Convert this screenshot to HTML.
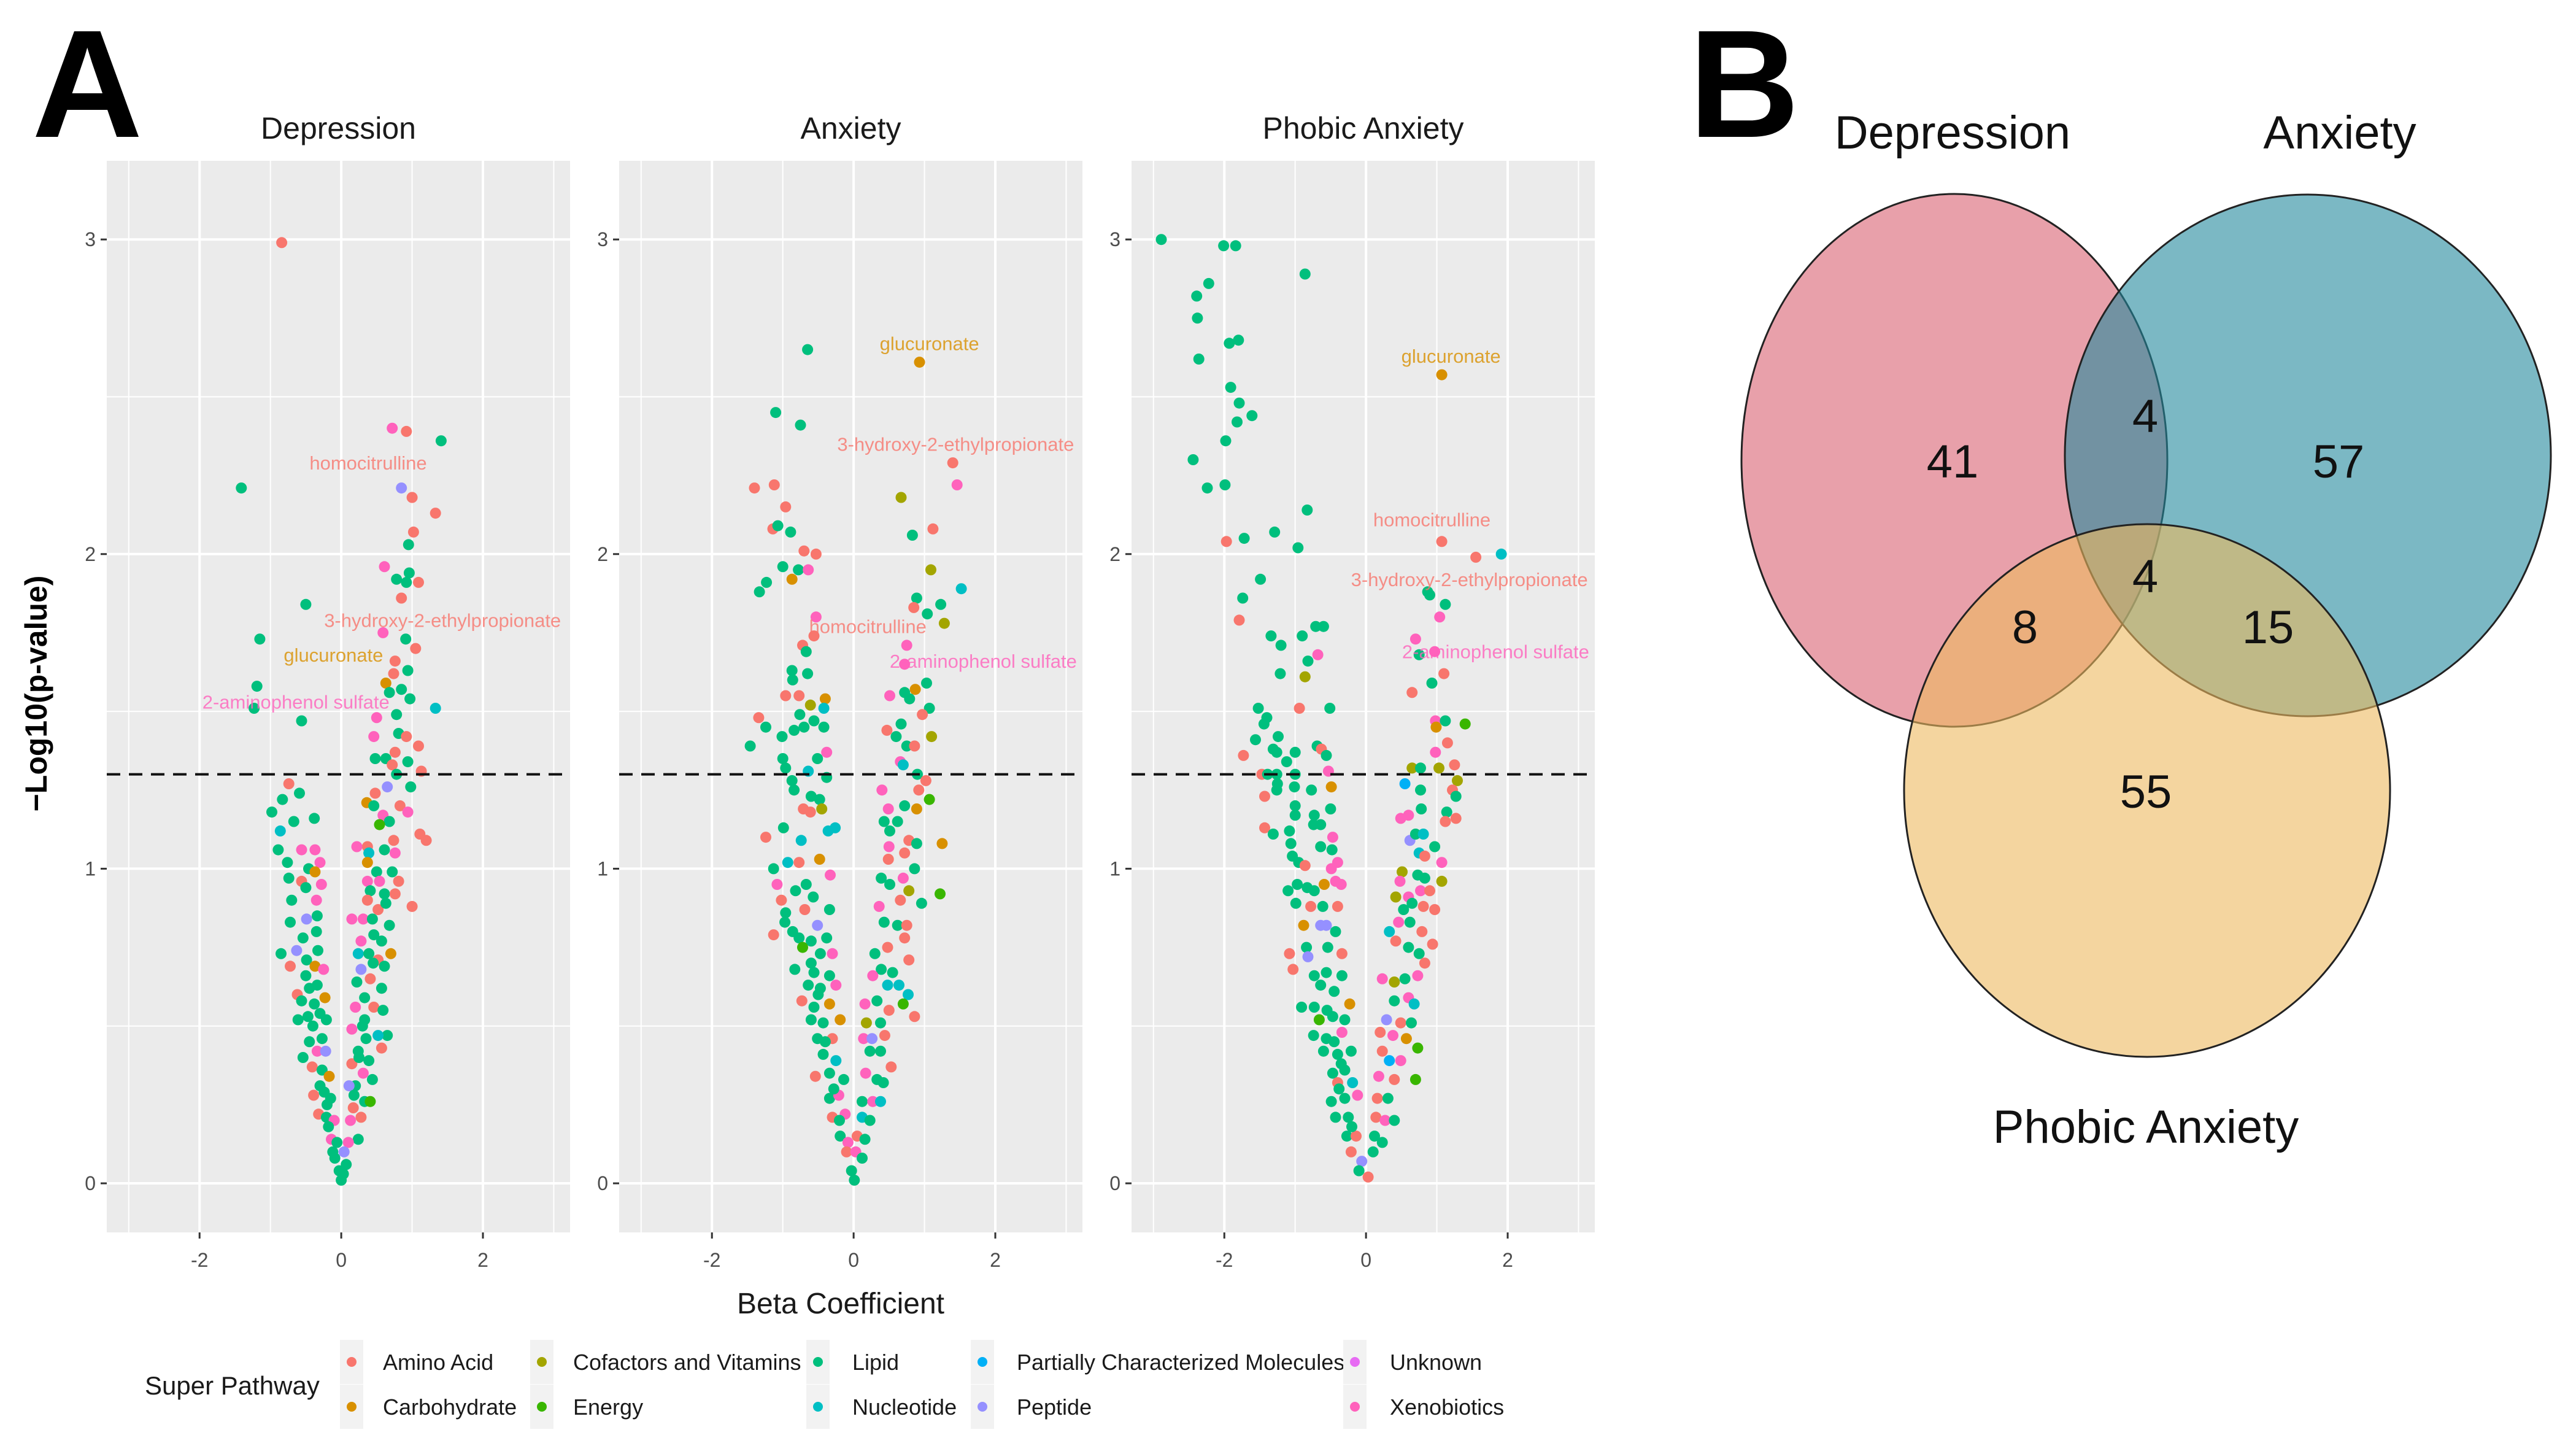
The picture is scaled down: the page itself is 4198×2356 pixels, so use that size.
<!DOCTYPE html>
<html><head><meta charset="utf-8">
<style>
html,body{margin:0;padding:0;background:#fff;}
svg{display:block;font-family:"Liberation Sans",Arial,sans-serif;}
</style></head>
<body>
<svg id="fig" width="4198" height="2356" viewBox="0 0 4198 2356" xmlns="http://www.w3.org/2000/svg">
<text x="52" y="223" font-size="250" font-weight="bold">A</text>
<text x="2752" y="223" font-size="250" font-weight="bold">B</text>
<g id="volcano"></g>
<g id="venn"></g>
</svg>
<script>
const NS="http://www.w3.org/2000/svg";
const categories=["Amino Acid","Carbohydrate","Cofactors and Vitamins","Energy","Lipid","Nucleotide","Partially Characterized Molecules","Peptide","Unknown","Xenobiotics"];
const catColors=["#F8766D","#D89000","#A3A500","#39B600","#00BF7D","#00BFC4","#00B0F6","#9590FF","#E76BF3","#FF62BC"];
const panelTitles=["Depression","Anxiety","Phobic Anxiety"];
const xTicks=[-2,0,2];
const yTicks=[0,1,2,3];
const threshold=1.3;
const depPoints=[[-0.84,2.99,"A"],[0.72,2.40,"X"],[0.92,2.39,"A"],[1.41,2.36,"L"],[-1.41,2.21,"L"],[0.85,2.21,"G"],[1.0,2.18,"A"],[1.33,2.13,"A"],[1.02,2.07,"A"],[0.95,2.03,"L"],[0.61,1.96,"X"],[0.78,1.92,"L"],[0.96,1.94,"L"],[0.92,1.91,"L"],[1.09,1.91,"A"],[0.85,1.86,"A"],[-0.50,1.84,"L"],[0.59,1.75,"X"],[-1.15,1.73,"L"],[0.91,1.73,"L"],[1.05,1.70,"A"],[0.76,1.66,"A"],[0.74,1.62,"A"],[0.63,1.59,"C"],[0.94,1.63,"L"],[-1.19,1.58,"L"],[0.68,1.56,"L"],[0.85,1.57,"L"],[0.97,1.54,"L"],[-1.23,1.51,"L"],[1.33,1.51,"N"],[0.78,1.49,"L"],[0.50,1.48,"X"],[-0.56,1.47,"L"],[0.46,1.42,"X"],[0.81,1.43,"L"],[0.92,1.42,"A"],[1.09,1.39,"A"],[0.76,1.37,"A"],[0.48,1.35,"L"],[0.63,1.35,"L"],[0.94,1.34,"L"],[0.72,1.33,"A"],[1.13,1.31,"A"],[0.78,1.30,"L"],[0.98,1.26,"L"],[0.65,1.26,"G"],[0.48,1.24,"A"],
[-0.74,1.27,"A"],[-0.83,1.22,"L"],[-0.59,1.24,"L"],[-0.98,1.18,"L"],[-0.67,1.15,"L"],[-0.86,1.12,"N"],[-0.38,1.16,"L"],[-0.89,1.06,"L"],[-0.56,1.06,"X"],[-0.37,1.06,"X"],[-0.76,1.02,"L"],[-0.46,1.00,"L"],[-0.30,1.02,"X"],[-0.74,0.97,"L"],[-0.56,0.96,"A"],[-0.37,0.99,"C"],[-0.28,0.95,"X"],[-0.50,0.94,"L"],[-0.70,0.90,"L"],[-0.35,0.90,"X"],[-0.72,0.83,"L"],[-0.49,0.84,"G"],[-0.34,0.85,"L"],[-0.54,0.78,"L"],[-0.35,0.80,"L"],[-0.63,0.74,"G"],[-0.33,0.74,"L"],[-0.85,0.73,"L"],[-0.49,0.71,"L"],[-0.37,0.69,"C"],[-0.72,0.69,"A"],[-0.25,0.68,"X"],[-0.34,0.63,"L"],[-0.62,0.60,"A"],[-0.23,0.59,"C"],[-0.56,0.58,"L"],[-0.38,0.57,"L"],[-0.61,0.52,"L"],[-0.47,0.53,"L"],[-0.30,0.54,"L"],[-0.21,0.52,"L"],[-0.45,0.45,"L"],[-0.27,0.46,"L"],[-0.34,0.42,"X"],[-0.22,0.42,"G"],[-0.54,0.40,"L"],[-0.41,0.37,"A"],[-0.27,0.36,"L"],[-0.17,0.34,"C"],[-0.39,0.28,"A"],[-0.24,0.29,"L"],[-0.15,0.27,"L"],[-0.32,0.22,"A"],[-0.21,0.21,"L"],[-0.10,0.20,"X"],[-0.14,0.14,"X"],[-0.06,0.13,"L"],[-0.09,0.08,"L"],[-0.03,0.04,"L"],[0,0.01,"L"],[-0.45,0.62,"L"],[-0.40,0.50,"L"],[-0.30,0.31,"L"],[-0.18,0.18,"L"],[-0.50,0.66,"L"],[-0.20,0.25,"L"],[-0.12,0.10,"L"],
[0.36,1.21,"C"],[0.46,1.20,"L"],[0.59,1.17,"X"],[0.68,1.15,"L"],[0.83,1.20,"A"],[0.94,1.18,"X"],[0.54,1.14,"E"],[0.74,1.09,"A"],[0.37,1.07,"A"],[0.22,1.07,"X"],[0.39,1.05,"N"],[0.61,1.06,"L"],[0.76,1.05,"X"],[1.11,1.11,"A"],[1.20,1.09,"A"],[0.37,1.02,"C"],[0.50,0.99,"L"],[0.72,0.99,"L"],[0.37,0.96,"X"],[0.54,0.96,"X"],[0.81,0.96,"A"],[0.41,0.93,"L"],[0.61,0.92,"L"],[0.76,0.92,"A"],[1.0,0.88,"A"],[0.37,0.90,"A"],[0.52,0.87,"A"],[0.63,0.89,"L"],[0.31,0.84,"X"],[0.44,0.84,"L"],[0.15,0.84,"X"],[0.68,0.82,"L"],[0.46,0.79,"L"],[0.28,0.77,"X"],[0.57,0.77,"L"],[0.70,0.73,"C"],[0.24,0.73,"N"],[0.39,0.73,"L"],[0.52,0.71,"A"],[0.28,0.68,"G"],[0.61,0.69,"L"],[0.41,0.65,"A"],[0.22,0.64,"L"],[0.57,0.62,"L"],[0.33,0.59,"L"],[0.46,0.56,"A"],[0.20,0.56,"X"],[0.59,0.55,"L"],[0.33,0.52,"L"],[0.65,0.47,"L"],[0.52,0.47,"N"],[0.15,0.49,"X"],[0.35,0.46,"L"],[0.57,0.43,"A"],[0.24,0.42,"L"],[0.39,0.39,"L"],[0.15,0.38,"A"],[0.31,0.35,"X"],[0.44,0.33,"L"],[0.20,0.31,"L"],[0.11,0.31,"G"],[0.33,0.26,"L"],[0.41,0.26,"E"],[0.17,0.24,"A"],[0.28,0.21,"A"],[0.13,0.20,"X"],[0.24,0.14,"L"],[0.10,0.13,"X"],[0.04,0.10,"G"],[0.07,0.06,"L"],[0.03,0.03,"L"],[0.30,0.50,"L"],[0.25,0.40,"L"],[0.18,0.28,"L"],[0.45,0.70,"L"]];
const anxPoints=[[-0.65,2.65,"L"],[0.93,2.61,"C"],[-1.10,2.45,"L"],[-0.75,2.41,"L"],[1.40,2.29,"A"],[1.46,2.22,"X"],[-1.40,2.21,"A"],[-1.12,2.22,"A"],[-0.96,2.15,"A"],[0.67,2.18,"F"],[-1.14,2.08,"A"],[-1.07,2.09,"L"],[-0.89,2.07,"L"],[0.83,2.06,"L"],[1.12,2.08,"A"],[-0.70,2.01,"A"],[-0.53,2.00,"A"],[-1.0,1.96,"L"],[-0.78,1.95,"L"],[-0.64,1.95,"X"],[-0.87,1.92,"C"],[1.09,1.95,"F"],[-1.23,1.91,"L"],[-1.33,1.88,"L"],[1.52,1.89,"N"],[0.89,1.86,"L"],[1.23,1.84,"L"],[0.85,1.83,"A"],[1.04,1.81,"L"],[1.28,1.78,"F"],[-0.53,1.80,"X"],[-0.56,1.74,"A"],[-0.72,1.71,"A"],[-0.67,1.69,"L"],[0.75,1.71,"X"],[0.72,1.65,"X"],[-0.87,1.63,"L"],[-0.86,1.60,"L"],[-0.65,1.62,"L"],[0.87,1.57,"C"],[1.03,1.59,"L"],[0.72,1.56,"L"],[0.79,1.54,"L"],[0.51,1.55,"X"],[-0.96,1.55,"A"],[-0.77,1.55,"A"],[-0.40,1.54,"C"],[-0.61,1.52,"F"],[-0.42,1.51,"N"],[1.07,1.51,"L"],[-1.34,1.48,"A"],[-1.24,1.45,"L"],[-1.01,1.42,"L"],[-0.76,1.49,"L"],[-0.84,1.44,"L"],[-0.70,1.45,"L"],[-0.56,1.47,"L"],[-0.42,1.45,"L"],[0.97,1.49,"A"],[0.67,1.46,"L"],[0.47,1.44,"A"],[0.60,1.42,"L"],[1.10,1.42,"F"],[0.75,1.39,"L"],[0.86,1.39,"A"],[-1.46,1.39,"L"],[-1.0,1.35,"L"],[-0.51,1.35,"L"],[-0.38,1.37,"X"],[0.66,1.34,"X"],[0.70,1.33,"N"],[-0.96,1.32,"L"],[-0.64,1.31,"N"],[-0.38,1.29,"L"],[0.90,1.30,"L"],[-0.87,1.28,"L"],[-0.84,1.25,"L"],[1.02,1.28,"A"],[0.40,1.25,"X"],[0.92,1.25,"A"],[1.07,1.22,"E"],[-0.60,1.23,"L"],[-0.48,1.22,"L"],[-0.71,1.19,"A"],[-0.61,1.18,"A"],[-0.45,1.19,"F"],[0.49,1.19,"X"],[0.72,1.20,"L"],[0.89,1.19,"C"],[-0.36,1.12,"N"],[-0.26,1.13,"N"],[-0.99,1.13,"L"],[-1.24,1.10,"A"],[-0.74,1.09,"N"],[0.43,1.15,"L"],[0.62,1.15,"L"],[0.51,1.12,"L"],[0.78,1.09,"A"],[0.89,1.08,"L"],[1.25,1.08,"C"],[0.50,1.07,"X"],[-1.13,1.00,"L"],[-0.93,1.02,"N"],[-0.77,1.02,"A"],[-0.48,1.03,"C"],[-0.33,0.98,"X"],[0.49,1.03,"A"],[0.72,1.05,"A"],[0.78,0.93,"F"],[0.86,1.0,"L"],[1.22,0.92,"E"],[0.96,0.89,"L"],[-1.08,0.95,"X"],[-0.82,0.93,"L"],[-0.67,0.95,"L"],[-1.02,0.90,"A"],[-0.57,0.91,"L"],[0.39,0.97,"L"],[0.51,0.95,"L"],[0.70,0.97,"X"],[-0.96,0.86,"L"],[-0.69,0.87,"A"],[-0.34,0.87,"L"],[0.36,0.88,"X"],[0.66,0.90,"A"],[-1.13,0.79,"A"],[-0.97,0.83,"L"],[-0.86,0.80,"L"],[-0.51,0.82,"G"],[-0.77,0.78,"L"],[-0.60,0.77,"L"],[-0.38,0.78,"L"],[0.43,0.83,"L"],[0.62,0.82,"L"],[0.75,0.82,"A"],[-0.72,0.75,"E"],[-0.47,0.73,"L"],[-0.30,0.73,"X"],[0.30,0.73,"L"],[0.48,0.75,"A"],[0.72,0.78,"A"],[0.78,0.71,"A"],[-0.83,0.68,"L"],[-0.56,0.67,"L"],[-0.34,0.66,"L"],[0.39,0.68,"L"],[0.55,0.67,"L"],[-0.64,0.63,"L"],[-0.47,0.62,"L"],[-0.25,0.63,"X"],[0.27,0.66,"X"],[0.48,0.63,"N"],[0.64,0.63,"N"],[0.77,0.60,"N"],[0.70,0.57,"E"],[0.86,0.53,"A"],[-0.73,0.58,"A"],[-0.56,0.56,"L"],[-0.34,0.57,"C"],[0.16,0.57,"X"],[0.33,0.58,"L"],[0.50,0.55,"A"],[-0.60,0.52,"L"],[-0.43,0.51,"L"],[-0.19,0.52,"C"],[0.18,0.51,"F"],[0.38,0.51,"L"],[-0.51,0.46,"L"],[-0.30,0.46,"A"],[0.14,0.46,"X"],[0.26,0.46,"G"],[0.44,0.47,"A"],[-0.43,0.41,"L"],[-0.25,0.39,"N"],[0.23,0.42,"L"],[0.38,0.42,"L"],[0.53,0.37,"A"],[-0.54,0.34,"A"],[-0.34,0.35,"L"],[-0.14,0.33,"L"],[0.17,0.35,"X"],[0.33,0.33,"L"],[0.42,0.32,"L"],[-0.34,0.27,"L"],[-0.21,0.28,"X"],[0.12,0.26,"L"],[0.27,0.26,"X"],[0.38,0.26,"N"],[-0.30,0.21,"A"],[-0.12,0.22,"X"],[0.12,0.21,"N"],[0.23,0.20,"L"],[-0.19,0.15,"L"],[-0.08,0.13,"X"],[0.05,0.15,"A"],[0.16,0.14,"L"],[-0.10,0.10,"A"],[0.03,0.10,"X"],[0.12,0.08,"L"],[-0.03,0.04,"L"],[0.01,0.01,"L"],[-0.50,0.60,"L"],[-0.40,0.45,"L"],[-0.28,0.30,"L"],[-0.60,0.70,"L"],[-0.20,0.20,"L"]];
const phoPoints=[[-2.89,3.0,"L"],[-2.01,2.98,"L"],[-1.84,2.98,"L"],[-0.86,2.89,"L"],[-2.22,2.86,"L"],[-2.39,2.82,"L"],[-2.38,2.75,"L"],[-1.93,2.67,"L"],[-1.80,2.68,"L"],[-2.36,2.62,"L"],[-1.91,2.53,"L"],[-1.79,2.48,"L"],[-1.61,2.44,"L"],[-1.82,2.42,"L"],[-1.98,2.36,"L"],[-2.44,2.30,"L"],[-2.24,2.21,"L"],[-1.99,2.22,"L"],[1.07,2.57,"C"],[-0.83,2.14,"L"],[-1.97,2.04,"A"],[-1.72,2.05,"L"],[-1.29,2.07,"L"],[-0.96,2.02,"L"],[1.07,2.04,"A"],[1.55,1.99,"A"],[1.91,2.0,"N"],[-1.49,1.92,"L"],[-1.74,1.86,"L"],[0.87,1.88,"L"],[0.90,1.87,"L"],[1.12,1.84,"L"],[1.04,1.80,"X"],[-1.79,1.79,"A"],[-1.34,1.74,"L"],[-1.20,1.71,"L"],[-0.90,1.74,"L"],[-0.71,1.77,"L"],[-0.60,1.77,"L"],[0.70,1.73,"X"],[0.75,1.68,"L"],[0.97,1.69,"X"],[-0.68,1.68,"X"],[-0.82,1.66,"L"],[-1.21,1.62,"L"],[-0.86,1.61,"F"],[1.10,1.62,"A"],[0.93,1.59,"L"],[0.65,1.56,"A"],[-1.52,1.51,"L"],[-0.94,1.51,"A"],[-0.51,1.51,"L"],[-1.40,1.48,"L"],[-1.44,1.46,"L"],[0.98,1.47,"X"],[1.12,1.47,"L"],[1.40,1.46,"E"],[0.99,1.45,"C"],[-1.56,1.41,"L"],[-1.24,1.42,"L"],[1.15,1.40,"A"],[-0.69,1.39,"L"],[-0.63,1.38,"A"],[-1.31,1.38,"L"],[-1.26,1.37,"L"],[-1.0,1.37,"L"],[-0.56,1.36,"L"],[-1.73,1.36,"A"],[-1.12,1.34,"L"],[0.98,1.37,"X"],[-1.47,1.30,"A"],[-1.39,1.30,"L"],[-1.26,1.30,"L"],[-1.0,1.30,"L"],[-0.53,1.31,"X"],[0.65,1.32,"F"],[0.77,1.32,"L"],[1.03,1.32,"F"],[1.25,1.33,"A"],[0.55,1.27,"P"],[-1.25,1.27,"L"],[-1.01,1.26,"L"],[-0.77,1.25,"L"],[-0.49,1.26,"C"],[1.29,1.28,"F"],[1.22,1.25,"A"],[-1.43,1.23,"A"],[-1.26,1.25,"L"],[0.77,1.25,"L"],[1.27,1.23,"L"],[-1.0,1.20,"L"],[0.78,1.19,"L"],[1.14,1.18,"L"],[-0.73,1.17,"L"],[-0.50,1.19,"L"],[-1.0,1.17,"L"],[0.49,1.16,"X"],[0.60,1.17,"X"],[1.12,1.15,"A"],[1.27,1.16,"A"],[-0.74,1.14,"L"],[-0.64,1.14,"L"],[-1.43,1.13,"A"],[-1.31,1.11,"L"],[-1.08,1.12,"L"],[-0.47,1.10,"X"],[0.62,1.09,"G"],[0.70,1.11,"L"],[0.81,1.11,"N"],[-1.06,1.08,"L"],[-0.64,1.07,"L"],[-0.48,1.06,"L"],[0.97,1.07,"L"],[0.75,1.05,"N"],[-1.04,1.04,"L"],[-0.95,1.02,"L"],[-0.40,1.02,"X"],[0.83,1.04,"A"],[1.07,1.02,"X"],[-0.86,1.01,"A"],[-0.49,1.0,"X"],[0.51,0.99,"F"],[0.73,0.98,"L"],[-0.97,0.95,"L"],[-0.83,0.94,"L"],[-0.73,0.93,"L"],[-0.59,0.95,"C"],[-0.43,0.96,"X"],[-0.35,0.95,"X"],[0.48,0.96,"X"],[0.83,0.97,"L"],[1.07,0.96,"F"],[-1.10,0.93,"L"],[-0.99,0.89,"L"],[-0.78,0.88,"A"],[-0.61,0.88,"L"],[-0.40,0.88,"A"],[0.42,0.91,"F"],[0.60,0.91,"X"],[0.77,0.93,"X"],[0.90,0.93,"A"],[0.53,0.87,"L"],[0.65,0.89,"L"],[0.81,0.88,"A"],[0.97,0.87,"A"],[-0.88,0.82,"C"],[-0.64,0.82,"G"],[-0.56,0.82,"G"],[-0.43,0.80,"L"],[0.33,0.80,"N"],[0.46,0.83,"X"],[0.62,0.83,"L"],[0.79,0.80,"A"],[-1.08,0.73,"A"],[-0.84,0.75,"L"],[-0.54,0.75,"L"],[-0.34,0.73,"A"],[0.42,0.77,"A"],[0.60,0.75,"L"],[0.75,0.73,"L"],[0.94,0.76,"A"],[-0.82,0.72,"G"],[-1.03,0.68,"A"],[-0.73,0.66,"L"],[-0.56,0.67,"L"],[-0.34,0.66,"L"],[0.23,0.65,"X"],[0.40,0.64,"F"],[0.55,0.65,"L"],[0.73,0.66,"X"],[0.83,0.70,"A"],[-0.64,0.63,"L"],[-0.45,0.61,"L"],[-0.23,0.57,"C"],[-0.91,0.56,"L"],[-0.73,0.56,"L"],[0.40,0.58,"L"],[0.60,0.59,"X"],[0.68,0.57,"N"],[-0.66,0.52,"E"],[-0.47,0.53,"L"],[-0.30,0.52,"L"],[0.29,0.52,"G"],[0.49,0.51,"A"],[0.64,0.51,"L"],[-0.74,0.47,"L"],[-0.56,0.46,"L"],[-0.34,0.48,"X"],[0.20,0.48,"A"],[0.38,0.47,"X"],[0.57,0.46,"C"],[0.73,0.43,"E"],[-0.60,0.42,"L"],[-0.40,0.41,"L"],[-0.21,0.42,"L"],[0.23,0.42,"A"],[0.33,0.39,"P"],[0.49,0.39,"X"],[-0.47,0.35,"L"],[-0.30,0.36,"L"],[-0.19,0.32,"N"],[0.18,0.34,"X"],[0.40,0.33,"A"],[0.70,0.33,"E"],[-0.40,0.32,"A"],[-0.49,0.26,"L"],[-0.30,0.27,"L"],[-0.12,0.28,"X"],[0.16,0.27,"A"],[0.31,0.27,"L"],[-0.43,0.21,"L"],[-0.25,0.21,"L"],[0.14,0.21,"A"],[0.27,0.20,"X"],[0.40,0.20,"L"],[-0.27,0.15,"L"],[-0.14,0.15,"A"],[0.12,0.15,"L"],[0.23,0.13,"L"],[-0.21,0.10,"A"],[-0.06,0.07,"G"],[0.10,0.10,"L"],[-0.10,0.04,"L"],[0.03,0.02,"A"],[-0.35,0.38,"L"],[-0.45,0.45,"L"],[-0.55,0.55,"L"],[-0.38,0.30,"L"],[-0.20,0.18,"L"]];
const panelPoints=[depPoints,anxPoints,phoPoints];
const labelTexts=["glucuronate","3-hydroxy-2-ethylpropionate","homocitrulline","2-aminophenol sulfate"];
const labelCats=[1,0,0,9];
const depLabels=[[-0.11,1.68],[1.43,1.79],[0.38,2.29],[-0.64,1.53]];
const anxLabels=[[1.07,2.67],[1.44,2.35],[0.20,1.77],[1.83,1.66]];
const phoLabels=[[1.20,2.63],[1.46,1.92],[0.93,2.11],[1.83,1.69]];
const panelLabels=[depLabels,anxLabels,phoLabels];
const vennSets=["Depression","Anxiety","Phobic Anxiety"];
const vennCounts={dOnly:41,aOnly:57,pOnly:55,da:4,dp:8,ap:15,dap:4};

const codeIdx={A:0,C:1,F:2,E:3,L:4,N:5,P:6,G:7,U:8,X:9};
function el(tag,attrs,parent){const e=document.createElementNS(NS,tag);for(const k in attrs)e.setAttribute(k,attrs[k]);if(parent)parent.appendChild(e);return e;}

const panelLeft=[174,1009,1844], panelW=755, panelTop=262, panelBot=2008;
const xMin=-3.31, xMax=3.23, yMin=-0.156, yMax=3.25;
function sx(i,v){return panelLeft[i]+(v-xMin)/(xMax-xMin)*panelW;}
function sy(v){return panelBot-(v-yMin)/(yMax-yMin)*(panelBot-panelTop);}

const vg=document.getElementById('volcano');
for(let i=0;i<3;i++){
  const g=el('g',{},vg);
  
  
  const bg=el('rect',{x:panelLeft[i],y:panelTop,width:panelW,height:panelBot-panelTop,fill:'#ebebeb'},g);
  
  
  [-3,-1,1,3].forEach(v=>{const l=el('line',{x1:sx(i,v),x2:sx(i,v),y1:panelTop,y2:panelBot,stroke:'#fff','stroke-width':2},g);});
  [0.5,1.5,2.5].forEach(v=>{const l=el('line',{x1:panelLeft[i],x2:panelLeft[i]+panelW,y1:sy(v),y2:sy(v),stroke:'#fff','stroke-width':2},g);});
  xTicks.forEach(v=>{
    const l=el('line',{x1:sx(i,v),x2:sx(i,v),y1:panelTop,y2:panelBot,stroke:'#fff','stroke-width':4},g);
    
    
    const t=el('line',{x1:sx(i,v),x2:sx(i,v),y1:panelBot,y2:panelBot+10,stroke:'#333','stroke-width':3},g);
    
    
    const tx=el('text',{x:sx(i,v),y:panelBot+56,'font-size':32,fill:'#4d4d4d','text-anchor':'middle'},g);
    tx.textContent=(v<0?'-':'')+Math.abs(v);
    
    
  });
  yTicks.forEach(v=>{
    const l=el('line',{x1:panelLeft[i],x2:panelLeft[i]+panelW,y1:sy(v),y2:sy(v),stroke:'#fff','stroke-width':4},g);
    
    
    const t=el('line',{x1:panelLeft[i]-10,x2:panelLeft[i],y1:sy(v),y2:sy(v),stroke:'#333','stroke-width':3},g);
    
    
    const tx=el('text',{x:panelLeft[i]-18,y:sy(v)+11,'font-size':32,fill:'#4d4d4d','text-anchor':'end'},g);
    tx.textContent=String(v);
    
    
  });
  const title=el('text',{x:panelLeft[i]+panelW/2,y:226,'font-size':50,fill:'#1a1a1a','text-anchor':'middle'},g);
  title.textContent=panelTitles[i];
  
  
  panelPoints[i].forEach(p=>{
    const c=el('circle',{cx:sx(i,p[0]).toFixed(1),cy:sy(p[1]).toFixed(1),r:9,fill:catColors[codeIdx[p[2]]]},g);
    
    
  });
  const th=el('line',{x1:panelLeft[i],x2:panelLeft[i]+panelW,y1:sy(threshold),y2:sy(threshold),stroke:'#111','stroke-width':4,'stroke-dasharray':'22,14'},g);
  
  
  panelLabels[i].forEach((p,k)=>{
    const t=el('text',{x:sx(i,p[0]),y:sy(p[1])+11,'font-size':31,fill:catColors[labelCats[k]],'fill-opacity':0.8,'text-anchor':'middle'},g);
    t.textContent=labelTexts[k];
    
    
  });
}
const xt=el('text',{x:1370,y:2140,'font-size':48,fill:'#1a1a1a','text-anchor':'middle'},vg);
xt.textContent='Beta Coefficient';


const yt=el('text',{x:0,y:0,'font-size':50,'font-weight':'bold',fill:'#000','text-anchor':'middle',transform:'translate(76,1130) rotate(-90)'},vg);
yt.textContent='\u2212Log10(p-value)';


const lg=el('g',{},vg);


const lt=el('text',{x:236,y:2272,'font-size':42,fill:'#1a1a1a'},lg);
lt.textContent='Super Pathway';


const keyX=[573,883,1333,1601,2208], textX=[624,934,1389,1657,2265], rowY=[2219,2292];
categories.forEach((c,k)=>{
  const col=Math.floor(k/2), row=k%2;
  const bx=el('rect',{x:keyX[col]-19,y:rowY[row]-36,width:38,height:72,fill:'#f2f2f2'},lg);
  
  
  const d=el('circle',{cx:keyX[col],cy:rowY[row],r:8,fill:catColors[k]},lg);
  
  
  const t=el('text',{x:textX[col],y:rowY[row]+13,'font-size':36,fill:'#1a1a1a'},lg);
  t.textContent=c;
  
  
});

// ---- Venn ----
const vn=document.getElementById('venn');
const ells=[{cx:3185,cy:750,rx:347,ry:434,fill:'#d96171'},{cx:3761,cy:742,rx:396,ry:425,fill:'#23899d'},{cx:3499,cy:1288,rx:396,ry:434,fill:'#edb95f'}];
ells.forEach((e,k)=>{
  const s=el('ellipse',{cx:e.cx,cy:e.cy,rx:e.rx,ry:e.ry,fill:e.fill,'fill-opacity':0.6,stroke:'#222','stroke-width':3},vn);
  
  
});
const setLabelPos=[[3182,242],[3813,242],[3497,1862]];
vennSets.forEach((s,k)=>{
  const t=el('text',{x:setLabelPos[k][0],y:setLabelPos[k][1],'font-size':76,fill:'#111','text-anchor':'middle'},vn);
  t.textContent=s;
  
  
});
const countPos={dOnly:[3182,750],da:[3496,676],aOnly:[3811,750],dap:[3496,937],dp:[3300,1020],ap:[3696,1020],pOnly:[3497,1288]};
for(const key in vennCounts){
  const t=el('text',{x:countPos[key][0],y:countPos[key][1]+28,'font-size':76,fill:'#111','text-anchor':'middle'},vn);
  t.textContent=String(vennCounts[key]);
  
  
}
</script>
</body></html>
